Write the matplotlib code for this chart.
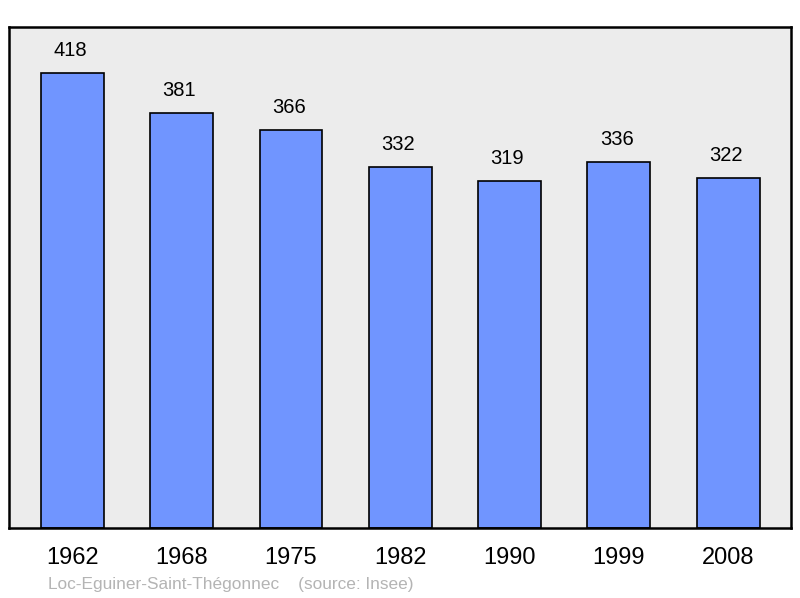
import matplotlib.pyplot as plt

years = ['1962', '1968', '1975', '1982', '1990', '1999', '2008']
population = [418, 381, 366, 332, 319, 336, 322]

plt.rcParams['font.family'] = ['Liberation Sans', 'DejaVu Sans']

fig = plt.figure(figsize=(8, 5.98), dpi=100)
ax = fig.add_axes([9 / 800, 70 / 598, 782 / 800, 501 / 598])
ax.set_facecolor('#ececec')

x = range(len(years))
bars = ax.bar(x, population, width=0.575, color='#7095ff', edgecolor='black', linewidth=1.2)
for xi, v in zip(x, population):
    ax.text(xi - 0.02, v + 20.5, str(v), ha='center', va='center', fontsize=14.5)

ax.set_xlim(-0.58, 6.575)
ax.set_ylim(0, 460.3)
ax.set_xticks(list(x))
ax.set_xticklabels(years, fontsize=17)
ax.tick_params(axis='x', length=0, pad=14)
ax.set_yticks([])
for s in ax.spines.values():
    s.set_linewidth(1.8)

fig.text(48 / 800, 1 - 584 / 598, 'Loc-Eguiner-Saint-Thégonnec    (source: Insee)',
         fontsize=12.4, color='#b4b4b4', va='center')

fig.savefig('out.png', dpi=100)
